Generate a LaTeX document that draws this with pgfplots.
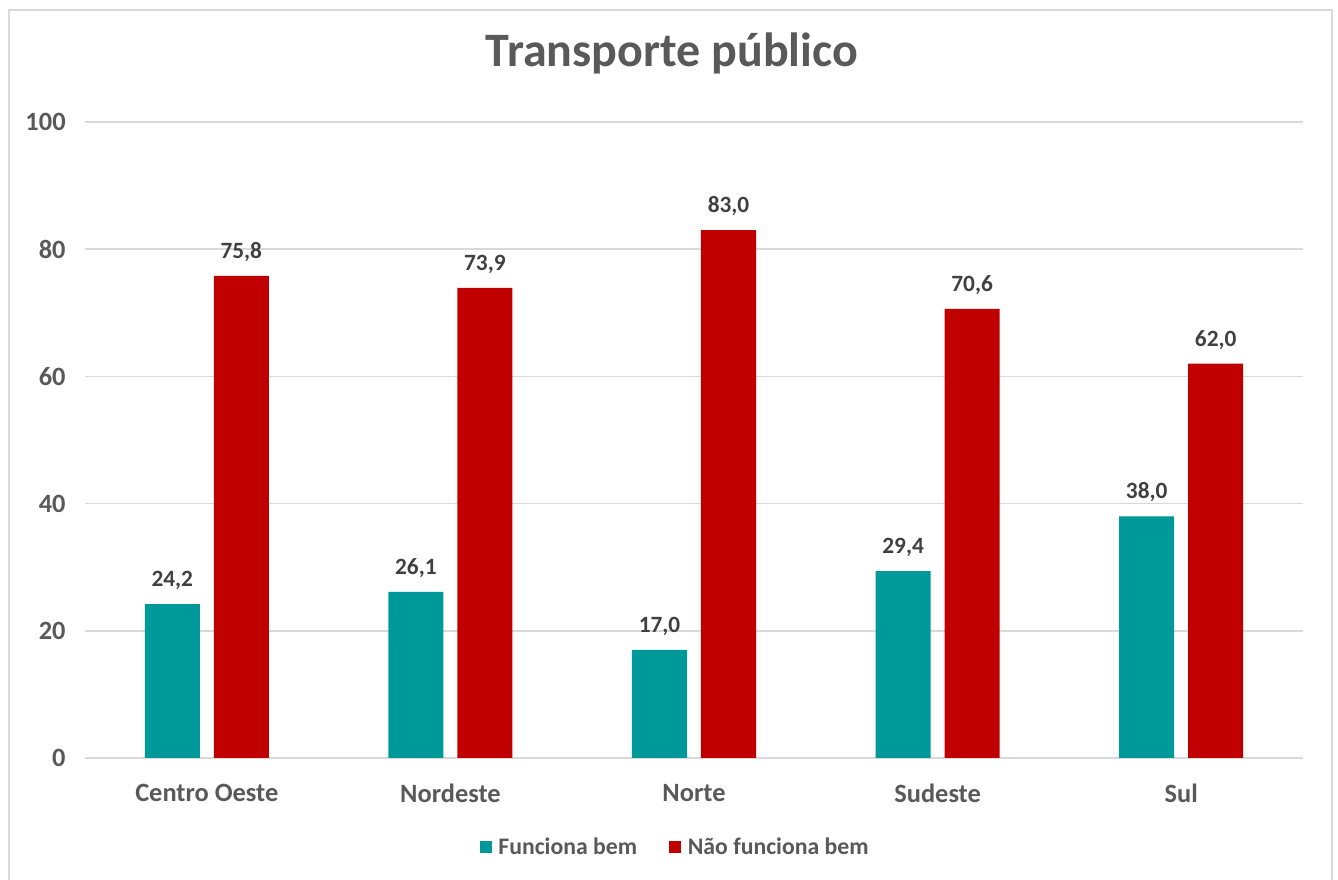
\documentclass[border=0pt]{standalone}
\usepackage{pgfplots}
\pgfplotsset{compat=1.18}
\usepackage{fontspec}
\setmainfont{Carlito}
\definecolor{teal1}{RGB}{0,153,153}
\definecolor{red1}{RGB}{192,0,0}
\definecolor{txtgray}{RGB}{89,89,89}
\definecolor{lblgray}{RGB}{64,64,64}
\definecolor{gridgray}{RGB}{217,217,217}
\begin{document}
\begin{tikzpicture}
\useasboundingbox (0pt,0pt) rectangle (1003.5pt,660pt);
\draw[gridgray,line width=1.5pt] (6.4pt,0pt) -- (6.4pt,652.5pt) -- (999pt,652.5pt) -- (999pt,0pt);
\node[font=\bfseries\fontsize{36}{42}\selectfont,text=txtgray,anchor=base] at (504pt,609.75pt) {Transporte público};
\begin{axis}[
  at={(63.75pt,91.5pt)}, anchor=south west,
  scale only axis, width=913.5pt, height=477pt,
  ybar, bar width=0.226,
  xmin=-0.5, xmax=4.5, ymin=0, ymax=100,
  ytick={0,20,40,60,80,100},
  xtick={0,1,2,3,4},
  xticklabels={Centro Oeste,Nordeste,Norte,Sudeste,Sul},
  axis line style={draw=none},
  ymajorgrids, grid style={gridgray,line width=1.1pt},
  major tick length=0pt,
  /pgf/number format/assume math mode=true,
  ticklabel style={font=\bfseries\fontsize{19.8}{23}\selectfont,text=txtgray},
  yticklabel style={xshift=-11pt},
  xticklabel style={yshift=-16pt},
  nodes near coords={\pgfmathprintnumber[fixed,fixed zerofill,precision=1,use comma]{\pgfplotspointmeta}},
  every node near coord/.append style={font=\bfseries\fontsize{17.5}{20}\selectfont,text=lblgray,anchor=base,yshift=13pt},
  legend style={at={(0.4848,-0.14)},anchor=center,draw=none,legend columns=2,
    font=\bfseries\fontsize{17.8}{20}\selectfont,text=txtgray,
    /tikz/every odd column/.append style={column sep=3pt},
    /tikz/every even column/.append style={column sep=22pt}},
  legend image code/.code={\fill[#1] (0pt,-4.5pt) rectangle (9pt,4.5pt);},
]
\addplot[fill=teal1,draw=none,bar shift=-0.1416] coordinates {(0,24.2) (1,26.1) (2,17.0) (3,29.4) (4,38.0)};
\addplot[fill=red1,draw=none,bar shift=0.1416] coordinates {(0,75.8) (1,73.9) (2,83.0) (3,70.6) (4,62.0)};
\legend{Funciona bem,Não funciona bem}
\end{axis}
\end{tikzpicture}
\end{document}
